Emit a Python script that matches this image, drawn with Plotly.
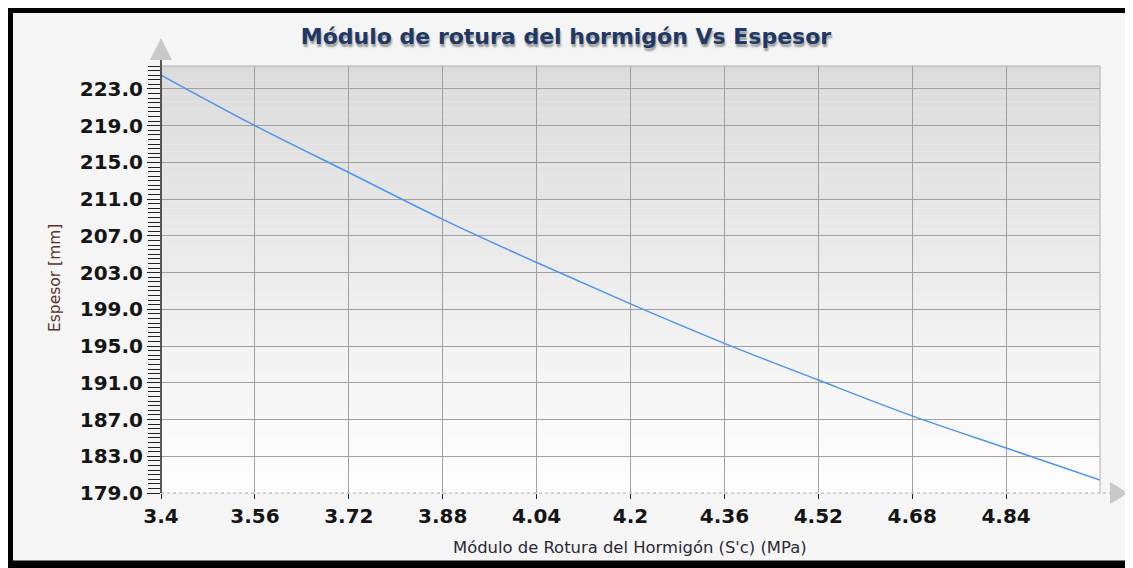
import plotly.graph_objects as go

# ---- data ----
modulo_rotura = [3.4, 3.56, 3.72, 3.88, 4.04, 4.2, 4.36, 4.52, 4.68, 4.84, 5.0]
espesor = [224.5, 219.0, 213.9, 208.8, 204.1, 199.6, 195.3, 191.3, 187.4, 183.9, 180.4]
x_tick_vals = [3.4, 3.56, 3.72, 3.88, 4.04, 4.2, 4.36, 4.52, 4.68, 4.84]
x_tick_text = ["3.4", "3.56", "3.72", "3.88", "4.04", "4.2", "4.36", "4.52", "4.68", "4.84"]
y_tick_vals = [179, 183, 187, 191, 195, 199, 203, 207, 211, 215, 219, 223]

title_text = "Módulo de rotura del hormigón Vs Espesor"
x_title = "Módulo de Rotura del Hormigón (S'c) (MPa)"
y_title = "Espesor [mm]"

# the page adds an 8px body margin; lay out in page pixels and compensate
OFF = 8
W, H = 1133 - OFF, 568 - OFF
L, R, T, B = 161, 1100, 66, 493  # page pixels of the plot area


def px(x):
    return (x - L) / (R - L)


def py(y):
    return (B - y) / (B - T)


fig = go.Figure()
fig.add_trace(go.Scatter(
    x=modulo_rotura, y=espesor, mode="lines",
    line=dict(color="#4f94ec", width=1.5), line_shape="spline",
    hoverinfo="x+y", showlegend=False,
))

shapes = []
# outer frame with light fill
shapes.append(dict(type="rect", xref="paper", yref="paper",
                   x0=px(9), x1=px(1129.5), y0=py(564.5), y1=py(9),
                   line=dict(color="black", width=8), fillcolor="#f5f5f5", layer="below"))
# vertical gradient for plot background
n = 60
for i in range(n):
    t = i / (n - 1)
    c = int(round(219 + (254 - 219) * t))
    shapes.append(dict(type="rect", xref="x domain", yref="y domain",
                       x0=0, x1=1, y0=1 - (i + 1) / n, y1=1 - i / n,
                       line=dict(width=0), fillcolor=f"rgb({c},{c},{c})", layer="below"))
# plot top and right border
shapes.append(dict(type="line", xref="paper", yref="paper", x0=0, x1=1, y0=1, y1=1,
                   line=dict(color="#b0b0b0", width=1)))
shapes.append(dict(type="line", xref="paper", yref="paper", x0=1, x1=1, y0=0, y1=1,
                   line=dict(color="#b0b0b0", width=1)))
# bottom dotted axis line
shapes.append(dict(type="line", xref="paper", yref="paper", x0=0, x1=px(1110), y0=0, y1=0,
                   line=dict(color="#a8a8a8", width=1, dash="dot")))
# left axis line
shapes.append(dict(type="line", xref="paper", yref="paper", x0=0, x1=0, y0=0, y1=py(60),
                   line=dict(color="#222222", width=1.5)))
# arrows
shapes.append(dict(type="path", xref="paper", yref="paper",
                   path=f"M {px(150)} {py(60)} L {px(161)} {py(38)} L {px(172)} {py(60)} Z",
                   fillcolor="#c8c8c8", line=dict(width=0)))
shapes.append(dict(type="path", xref="paper", yref="paper",
                   path=f"M {px(1110)} {py(482)} L {px(1128)} {py(493)} L {px(1110)} {py(504)} Z",
                   fillcolor="#c8c8c8", line=dict(width=0)))

tick_font = dict(family="DejaVu Sans", size=20, color="#151515", weight="bold")

fig.update_layout(
    width=W, height=H,
    margin=dict(l=L - OFF, r=1133 - R, t=T - OFF, b=568 - B, pad=0),
    paper_bgcolor="white", plot_bgcolor="rgba(0,0,0,0)",
    shapes=shapes,
    title=dict(text=title_text, x=(566 - OFF) / W, xref="container", xanchor="center",
               y=1 - (36 - OFF) / H, yref="container", yanchor="middle",
               font=dict(family="DejaVu Sans", size=22, color="#203864", weight="bold",
                         shadow="1px 3px 2px #9a9a9a")),
    xaxis=dict(range=[3.4, 5.0], tickvals=x_tick_vals, ticktext=x_tick_text,
               showgrid=True, gridcolor="#a0a0a0", gridwidth=1,
               ticks="outside", ticklen=5, tickcolor="#222222", tickwidth=1,
               showline=False, zeroline=False, tickfont=tick_font),
    yaxis=dict(range=[179, 225.5], tickvals=y_tick_vals, tickformat=".1f",
               showgrid=True, gridcolor="#a0a0a0", gridwidth=1,
               ticks="outside", ticklen=13, tickcolor="#222222", tickwidth=1.2,
               minor=dict(dtick=0.5, tick0=179, ticks="outside", ticklen=12,
                          tickcolor="#222222", tickwidth=1.2, showgrid=False),
               showline=False, zeroline=False, tickfont=tick_font),
    annotations=[
        dict(text=x_title, xref="paper", yref="paper", x=px(630), y=py(547),
             showarrow=False, xanchor="center", yanchor="middle",
             font=dict(family="DejaVu Sans", size=16.4, color="#2a2a35")),
        dict(text=y_title, xref="paper", yref="paper", x=px(55), y=py(278),
             showarrow=False, xanchor="center", yanchor="middle", textangle=-90,
             font=dict(family="DejaVu Sans", size=15.5, color="#5a3328")),
    ],
)

fig.write_html("out.html")
